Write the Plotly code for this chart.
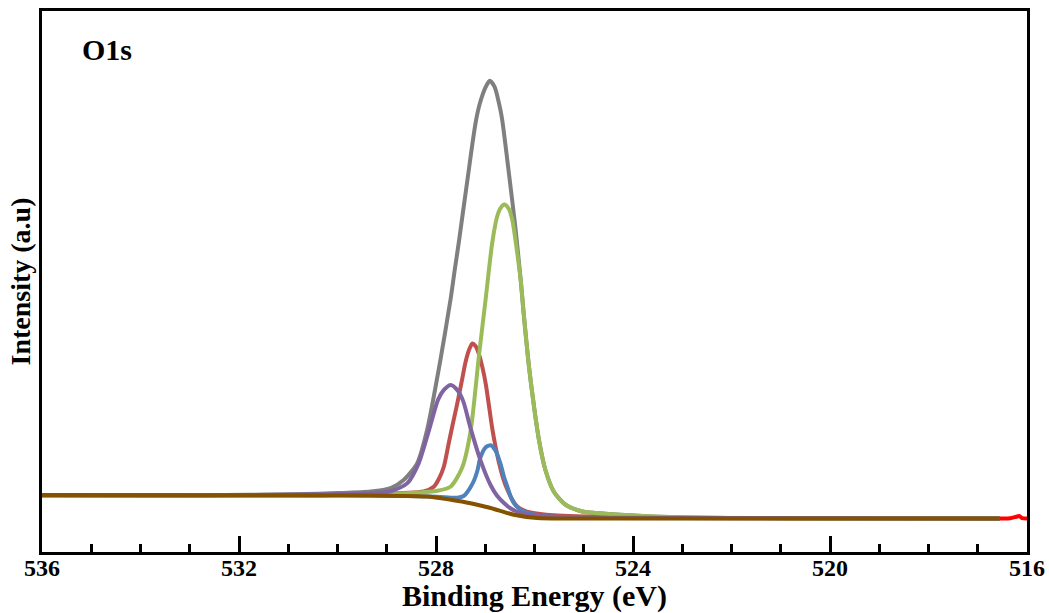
import plotly.graph_objects as go

# O1s core-level XPS spectrum: fitted envelope, four components and Shirley background
# Binding energy in eV, intensity in arbitrary units

be_envelope = [536.00, 532.77, 530.69, 530.00, 529.33, 528.92, 528.65, 528.38, 528.18,
               527.91, 527.70, 527.62, 527.54, 527.47, 527.40, 527.33, 527.26, 527.18,
               527.11, 526.99, 526.91, 526.81, 526.72, 526.66, 526.52, 526.39, 526.28,
               526.22, 526.12, 526.01, 525.91, 525.78, 525.61, 525.37, 525.03, 524.76,
               524.26, 523.24, 521.82, 519.79, 516.55]
int_envelope = [5.75, 5.75, 5.87, 5.97, 6.13, 6.47, 7.30, 8.97, 12.30,
                19.30, 25.50, 28.30, 30.97, 33.47, 35.97, 38.47, 40.97, 43.47,
                44.97, 46.63, 47.25, 46.63, 44.97, 43.47, 38.00, 32.63, 27.30,
                23.97, 18.97, 14.63, 11.30, 8.30, 6.13, 4.80, 4.13, 3.97,
                3.80, 3.57, 3.47, 3.45, 3.43]

be_green = [536.00, 530.75, 528.99, 528.52, 527.97, 527.70, 527.47, 527.30, 527.13,
            526.99, 526.86, 526.76, 526.69, 526.61, 526.52, 526.45, 526.35, 526.28,
            526.22, 526.12, 526.01, 525.91, 525.78, 525.61, 525.37, 525.03, 524.76,
            524.26, 523.24, 521.82, 519.79, 516.55]
int_green = [5.75, 5.75, 5.87, 5.97, 6.20, 6.63, 8.50, 12.10, 19.63,
             25.47, 30.97, 33.63, 34.50, 34.85, 34.40, 33.30, 29.97, 27.30,
             23.97, 18.97, 14.63, 11.30, 8.30, 6.13, 4.80, 4.13, 3.97,
             3.80, 3.57, 3.47, 3.45, 3.43]

be_red = [536.00, 530.14, 528.65, 528.25, 528.04, 527.94, 527.84, 527.74, 527.65,
          527.57, 527.48, 527.40, 527.33, 527.26, 527.20, 527.13, 527.06, 526.99,
          526.93, 526.86, 526.79, 526.72, 526.64, 526.55, 526.45, 526.35, 526.22,
          526.08, 525.61, 524.26, 521.82, 516.55]
int_red = [5.75, 5.75, 5.97, 6.13, 6.63, 7.40, 8.63, 11.00, 13.10,
           14.90, 17.10, 19.10, 20.30, 20.95, 20.70, 19.90, 18.60, 16.90,
           14.90, 12.50, 10.60, 8.97, 7.50, 6.30, 5.30, 4.63, 4.25,
           4.03, 3.75, 3.55, 3.45, 3.43]

be_blue = [536.00, 530.14, 528.72, 527.97, 527.57, 527.43, 527.36, 527.30, 527.23,
           527.16, 527.10, 526.99, 526.89, 526.79, 526.69, 526.62, 526.55, 526.49,
           526.42, 526.32, 526.22, 526.08, 525.95, 525.68, 524.66, 516.55]
int_blue = [5.75, 5.75, 5.70, 5.60, 5.50, 5.70, 6.10, 6.55, 7.20,
            8.20, 9.50, 10.55, 10.75, 10.20, 8.90, 7.60, 6.60, 5.70,
            4.97, 4.45, 4.13, 3.90, 3.75, 3.60, 3.47, 3.43]

be_purple = [536.00, 532.77, 530.95, 529.67, 528.92, 528.58, 528.35, 528.14, 527.96,
             527.84, 527.70, 527.57, 527.45, 527.30, 527.10, 526.89, 526.76, 526.62,
             526.49, 526.35, 526.18, 525.95, 524.66, 516.55]
int_purple = [5.75, 5.75, 5.80, 5.90, 6.15, 6.97, 8.97, 12.30, 15.30,
              16.30, 16.80, 16.30, 15.20, 12.50, 9.30, 6.75, 5.70, 4.97,
              4.45, 4.10, 3.85, 3.70, 3.50, 3.43]

be_background = [536.00, 532.77, 529.33, 528.18, 527.70, 527.30, 526.89, 526.42,
                 525.95, 524.66, 516.55]
int_background = [5.78, 5.75, 5.72, 5.63, 5.30, 4.95, 4.47, 3.80,
                  3.47, 3.43, 3.43]

be_measured = [516.55, 516.34, 516.22, 516.16, 516.10, 516.00]
int_measured = [3.43, 3.45, 3.60, 3.67, 3.47, 3.43]

x_ticks = [536, 532, 528, 524, 520, 516]

SERIF = "Liberation Serif"

series = [
    ("Envelope", be_envelope, int_envelope, "#7f7f7f"),
    ("Measured", be_measured, int_measured, "#ff0000"),
    ("Peak 2", be_red, int_red, "#c0504d"),
    ("Peak 4", be_blue, int_blue, "#4f81bd"),
    ("Peak 1", be_green, int_green, "#9bbb59"),
    ("Peak 3", be_purple, int_purple, "#8064a2"),
    ("Background", be_background, int_background, "#855200"),
]

fig = go.Figure()
for name, xs, ys, color in series:
    fig.add_trace(go.Scatter(
        x=xs, y=ys, name=name, mode="lines",
        line=dict(color=color, width=4, shape="spline", smoothing=0.7),
        hoverinfo="skip",
    ))

fig.update_layout(
    width=1049, height=613,
    margin=dict(l=42, r=22, t=11, b=61),
    paper_bgcolor="white", plot_bgcolor="white",
    showlegend=False,
    xaxis=dict(
        range=[536, 516],
        tickvals=x_ticks,
        ticktext=[str(v) for v in x_ticks],
        ticks="inside", ticklen=16, tickwidth=3, tickcolor="black",
        minor=dict(ticks="inside", ticklen=8, tickwidth=3, tickcolor="black", dtick=1),
        showline=True, linecolor="black", linewidth=3, mirror=True,
        showgrid=False, zeroline=False,
        ticklabelstandoff=-8,
        tickfont=dict(family=SERIF, size=24, color="black", weight="bold"),
        title=dict(text="Binding Energy (eV)", standoff=3,
                   font=dict(family=SERIF, size=30, color="black", weight="bold")),
        automargin=False,
    ),
    yaxis=dict(
        range=[0.07, 54.23],
        showticklabels=False, ticks="",
        showline=True, linecolor="black", linewidth=3, mirror=True,
        showgrid=False, zeroline=False,
        title=dict(text="Intensity (a.u)", standoff=1,
                   font=dict(family=SERIF, size=28, color="black", weight="bold")),
        automargin=False,
    ),
    annotations=[dict(
        text="O1s", xref="paper", yref="paper", x=0.0389, y=0.928,
        xanchor="left", yanchor="middle", showarrow=False,
        font=dict(family=SERIF, size=30, color="black", weight="bold"),
    )],
)

fig.write_html("out.html")
